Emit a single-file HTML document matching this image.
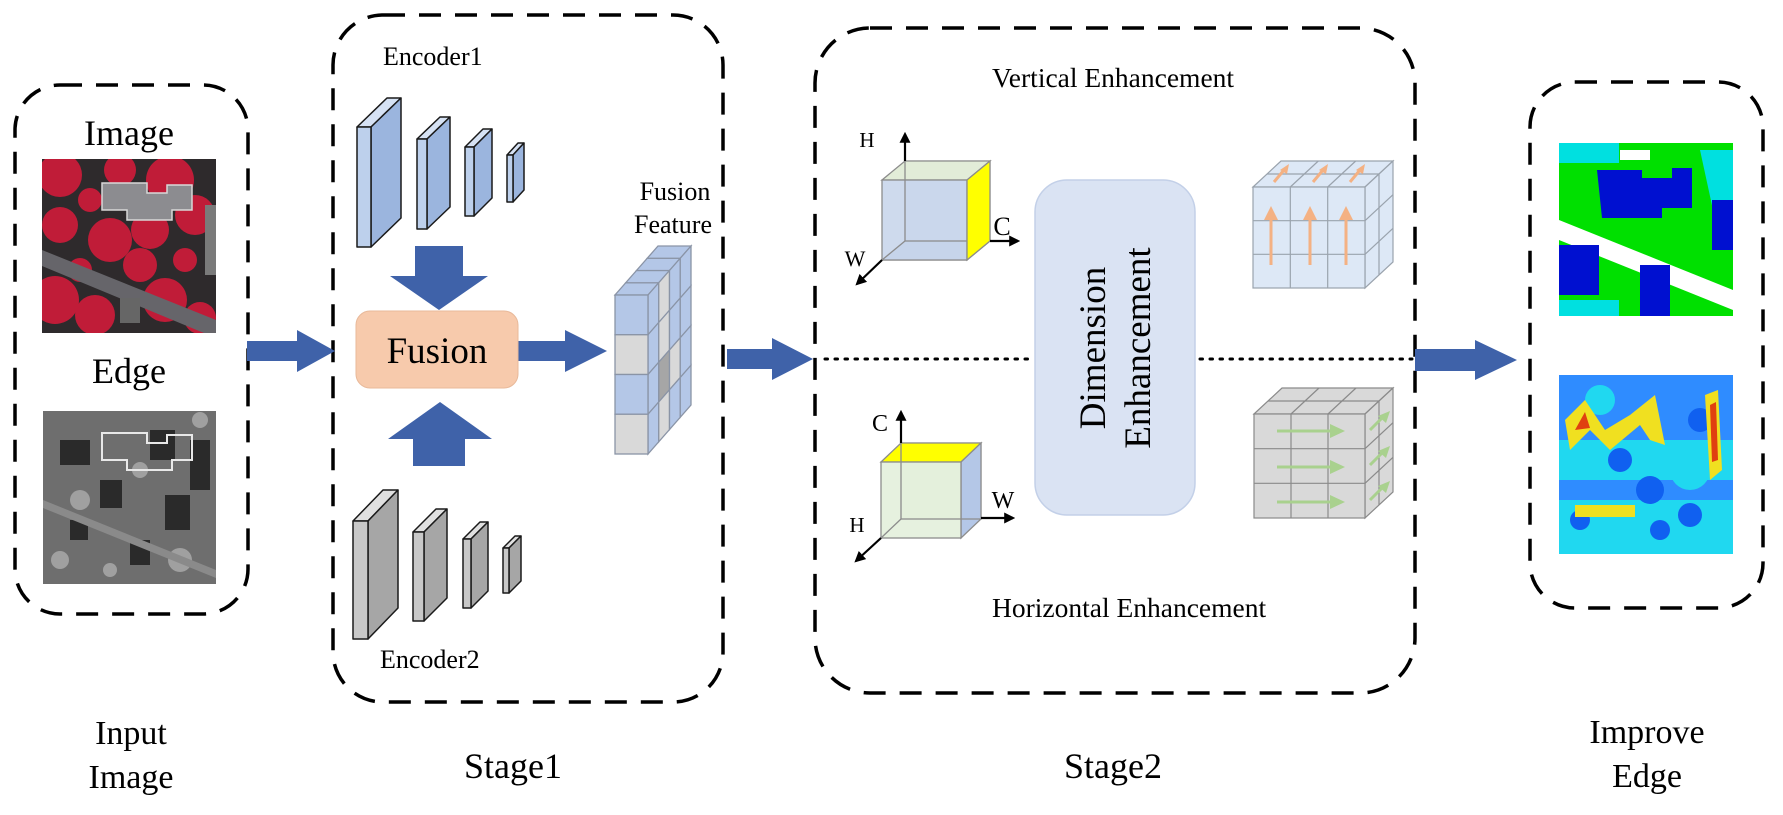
<!DOCTYPE html>
<html><head><meta charset="utf-8"><style>
html,body{margin:0;padding:0;background:#fff;}
svg{display:block;}
text{font-family:"Liberation Serif",serif;fill:#000;}
</style></head><body>
<svg width="1783" height="815" viewBox="0 0 1783 815" xmlns="http://www.w3.org/2000/svg">
<defs>
<marker id="ah" viewBox="0 0 10 10" refX="8" refY="5" markerWidth="5" markerHeight="5" orient="auto"><path d="M0,0 L10,5 L0,10 z" fill="#000"/></marker>
<clipPath id="c1"><rect x="42" y="159" width="174" height="174"/></clipPath>
<clipPath id="c2"><rect x="43" y="411" width="173" height="173"/></clipPath>
<clipPath id="c3"><rect x="1559" y="143" width="174" height="173"/></clipPath>
<clipPath id="c4"><rect x="1559" y="375" width="174" height="179"/></clipPath>
</defs>

<g fill="none" stroke="#000" stroke-width="3.5" stroke-dasharray="22 14">
<rect x="15" y="85" width="233" height="529" rx="45"/>
<rect x="333" y="15" width="390" height="687" rx="50"/>
<rect x="815" y="28" width="600" height="665" rx="55"/>
<rect x="1530" y="82" width="233" height="526" rx="45"/>
</g>

<text x="129" y="145" font-size="36" text-anchor="middle">Image</text>
<g clip-path="url(#c1)">
<rect x="42" y="159" width="174" height="174" fill="#2e2a2c"/>
<g fill="#c01c38">
<circle cx="60" cy="175" r="22"/><circle cx="120" cy="170" r="16"/><circle cx="170" cy="180" r="24"/>
<circle cx="195" cy="215" r="20"/><circle cx="60" cy="225" r="18"/><circle cx="110" cy="240" r="22"/>
<circle cx="150" cy="230" r="19"/><circle cx="140" cy="265" r="17"/><circle cx="55" cy="300" r="24"/>
<circle cx="95" cy="315" r="20"/><circle cx="165" cy="300" r="22"/><circle cx="200" cy="318" r="16"/>
<circle cx="185" cy="260" r="12"/><circle cx="80" cy="270" r="12"/><circle cx="90" cy="200" r="12"/>
</g>
<path d="M42,250 L216,320 L216,338 L42,266 z" fill="#66656a"/>
<path d="M102,183 h45 v10 h20 v-8 h25 v25 h-20 v10 h-45 v-10 h-25 z" fill="#8c8c90" stroke="#d8d8d8" stroke-width="1.5"/>
<rect x="205" y="205" width="11" height="70" fill="#7a7a7a"/>
<rect x="120" y="298" width="20" height="25" fill="#666"/>
</g>
<text x="129" y="383" font-size="36" text-anchor="middle">Edge</text>
<g clip-path="url(#c2)">
<rect x="43" y="411" width="173" height="173" fill="#6e6e6e"/>
<g fill="#2a2a2a">
<rect x="60" y="440" width="30" height="25"/><rect x="150" y="430" width="25" height="30"/>
<rect x="190" y="440" width="20" height="50"/><rect x="100" y="480" width="22" height="28"/>
<rect x="165" y="495" width="25" height="35"/><rect x="70" y="520" width="18" height="20"/>
<rect x="130" y="540" width="20" height="25"/>
</g>
<g fill="#a0a0a0">
<circle cx="80" cy="500" r="10"/><circle cx="140" cy="470" r="8"/><circle cx="180" cy="560" r="12"/>
<circle cx="60" cy="560" r="9"/><circle cx="110" cy="570" r="7"/><circle cx="200" cy="420" r="8"/>
</g>
<path d="M43,500 L216,570 L216,578 L43,508 z" fill="#8a8a8a"/>
<path d="M102,433 h45 v10 h20 v-8 h25 v25 h-20 v10 h-45 v-10 h-25 z" fill="none" stroke="#e8e8e8" stroke-width="2"/>
</g>
<text x="131" y="744" font-size="34" text-anchor="middle">Input</text>
<text x="131" y="788" font-size="34" text-anchor="middle">Image</text>

<g fill="#3f62a9">
<polygon points="247,341 297,341 297,330 335,351 297,372 297,361 247,361"/>
<polygon points="518,341 565,341 565,330 607,351 565,372 565,361 518,361"/>
<polygon points="727,349 772,349 772,338 813,359 772,380 772,369 727,369"/>
<polygon points="1415,349 1475,349 1475,340 1517,360 1475,380 1475,371 1415,371"/>
<polygon points="415,246 463,246 463,276 488,276 439,310 390,276 415,276"/>
<polygon points="440,402 492,439 465,439 465,466 413,466 413,439 388,439"/>
</g>

<g stroke="#1a1a1a" stroke-width="1.5" stroke-linejoin="round">
<g>
<polygon points="357,127 387,98 401,98 371,127" fill="#d6e2f4"/><polygon points="371,127 401,98 401,218 371,247" fill="#9bb5de"/><rect x="357" y="127" width="14" height="120" fill="#bdd0ec"/>
<polygon points="417,139 440,117 450,117 427,139" fill="#d6e2f4"/><polygon points="427,139 450,117 450,207 427,229" fill="#9bb5de"/><rect x="417" y="139" width="10" height="90" fill="#bdd0ec"/>
<polygon points="465,147 483,129 492,129 474,147" fill="#d6e2f4"/><polygon points="474,147 492,129 492,198 474,216" fill="#9bb5de"/><rect x="465" y="147" width="9" height="69" fill="#bdd0ec"/>
<polygon points="507,155 518,143 524,143 513,155" fill="#d6e2f4"/><polygon points="513,155 524,143 524,190 513,202" fill="#9bb5de"/><rect x="507" y="155" width="6" height="47" fill="#bdd0ec"/>
</g>
<g>
<polygon points="353,521 383,490 398,490 368,521" fill="#e0e0e0"/><polygon points="368,521 398,490 398,608 368,639" fill="#a6a6a6"/><rect x="353" y="521" width="15" height="118" fill="#c8c8c8"/>
<polygon points="413,532 436,509 447,509 424,532" fill="#e0e0e0"/><polygon points="424,532 447,509 447,598 424,621" fill="#a6a6a6"/><rect x="413" y="532" width="11" height="89" fill="#c8c8c8"/>
<polygon points="463,539 480,522 488,522 471,539" fill="#e0e0e0"/><polygon points="471,539 488,522 488,591 471,608" fill="#a6a6a6"/><rect x="463" y="539" width="8" height="69" fill="#c8c8c8"/>
<polygon points="503,548 515,536 521,536 509,548" fill="#e0e0e0"/><polygon points="509,548 521,536 521,581 509,593" fill="#a6a6a6"/><rect x="503" y="548" width="6" height="45" fill="#c8c8c8"/>
</g>
</g>
<text x="383" y="65" font-size="26">Encoder1</text>
<text x="380" y="668" font-size="26">Encoder2</text>

<rect x="356" y="311" width="162" height="77" rx="14" fill="#f7caac" stroke="#e8b99a" stroke-width="1"/>
<text x="437" y="363" font-size="37" text-anchor="middle">Fusion</text>

<text x="675" y="200" font-size="26" text-anchor="middle">Fusion</text>
<text x="673" y="233" font-size="26" text-anchor="middle">Feature</text>
<g stroke="#8a94a6" stroke-width="1.3">
<polygon points="615,295 648,295 658.75,282.75 625.75,282.75" fill="#b4c7e7"/>
<polygon points="625.75,282.75 658.75,282.75 669.5,270.5 636.5,270.5" fill="#b4c7e7"/>
<polygon points="636.5,270.5 669.5,270.5 680.25,258.25 647.25,258.25" fill="#b4c7e7"/>
<polygon points="647.25,258.25 680.25,258.25 691,246 658,246" fill="#b4c7e7"/>
<g>
<polygon points="648,295 658.75,282.75 658.75,322.5 648,334.75" fill="#b4c7e7"/>
<polygon points="658.75,282.75 669.5,270.5 669.5,310.25 658.75,322.5" fill="#d9d9d9"/>
<polygon points="669.5,270.5 680.25,258.25 680.25,298 669.5,310.25" fill="#b4c7e7"/>
<polygon points="680.25,258.25 691,246 691,285.75 680.25,298" fill="#b4c7e7"/>
<polygon points="648,334.75 658.75,322.5 658.75,362.25 648,374.5" fill="#b4c7e7"/>
<polygon points="658.75,322.5 669.5,310.25 669.5,350 658.75,362.25" fill="#d9d9d9"/>
<polygon points="669.5,310.25 680.25,298 680.25,337.75 669.5,350" fill="#b4c7e7"/>
<polygon points="680.25,298 691,285.75 691,325.5 680.25,337.75" fill="#b4c7e7"/>
<polygon points="648,374.5 658.75,362.25 658.75,402 648,414.25" fill="#b4c7e7"/>
<polygon points="658.75,362.25 669.5,350 669.5,389.75 658.75,402" fill="#a6a6a6"/>
<polygon points="669.5,350 680.25,337.75 680.25,377.5 669.5,389.75" fill="#d9d9d9"/>
<polygon points="680.25,337.75 691,325.5 691,365.25 680.25,377.5" fill="#b4c7e7"/>
<polygon points="648,414.25 658.75,402 658.75,441.75 648,454" fill="#b4c7e7"/>
<polygon points="658.75,402 669.5,389.75 669.5,429.5 658.75,441.75" fill="#d9d9d9"/>
<polygon points="669.5,389.75 680.25,377.5 680.25,417.25 669.5,429.5" fill="#b4c7e7"/>
<polygon points="680.25,377.5 691,365.25 691,405 680.25,417.25" fill="#b4c7e7"/>
</g>
<rect x="615" y="295" width="33" height="39.75" fill="#b4c7e7"/>
<rect x="615" y="334.75" width="33" height="39.75" fill="#d9d9d9"/>
<rect x="615" y="374.5" width="33" height="39.75" fill="#b4c7e7"/>
<rect x="615" y="414.25" width="33" height="39.75" fill="#d9d9d9"/>
</g>

<text x="513" y="778" font-size="36" text-anchor="middle">Stage1</text>
<text x="1113" y="778" font-size="36" text-anchor="middle">Stage2</text>

<g stroke="#000" stroke-width="3" stroke-dasharray="2.5 7.5" stroke-linecap="round">
<line x1="825" y1="359" x2="1032" y2="359"/>
<line x1="1200" y1="359" x2="1412" y2="359"/>
</g>

<text x="992" y="87" font-size="27.5">Vertical Enhancement</text>
<text x="992" y="617" font-size="27.5">Horizontal Enhancement</text>
<g stroke="#8c8c8c" stroke-width="1.3">
<rect x="905" y="161" width="85" height="80" fill="#c5d3ea" opacity="0.5"/>
<polygon points="882,180 905,161 990,161 967,180" fill="#e2ecd8"/>
<polygon points="882,260 905,241 990,241 967,260" fill="#c5d3ea"/>
<rect x="882" y="180" width="85" height="80" fill="#c5d3ea" fill-opacity="0.85"/>
<line x1="905" y1="161" x2="905" y2="241"/><line x1="905" y1="241" x2="990" y2="241"/><line x1="905" y1="241" x2="882" y2="260"/>
<polygon points="967,180 990,161 990,241 967,260" fill="#ffff00"/>
</g>
<g stroke="#000" stroke-width="2.2" marker-end="url(#ah)">
<line x1="905" y1="161" x2="905" y2="134"/>
<line x1="990" y1="241" x2="1018" y2="241"/>
<line x1="882" y1="260" x2="857" y2="284"/>
</g>
<text x="867" y="147" font-size="21" text-anchor="middle">H</text>
<text x="1002" y="235" font-size="26" text-anchor="middle">C</text>
<text x="855" y="266" font-size="22" text-anchor="middle">W</text>

<g stroke="#8c8c8c" stroke-width="1.3">
<rect x="901" y="443" width="80" height="76" fill="#e2efd9" opacity="0.6"/>
<polygon points="881,462 901,443 981,443 961,462" fill="#ffff00"/>
<polygon points="961,462 981,443 981,519 961,538" fill="#b4c7e7"/>
<rect x="881" y="462" width="80" height="76" fill="#e2efd9" fill-opacity="0.85"/>
<line x1="901" y1="443" x2="901" y2="519"/><line x1="901" y1="519" x2="981" y2="519"/><line x1="901" y1="519" x2="881" y2="538"/>
</g>
<g stroke="#000" stroke-width="2.2" marker-end="url(#ah)">
<line x1="901" y1="443" x2="901" y2="412"/>
<line x1="981" y1="518" x2="1013" y2="518"/>
<line x1="881" y1="538" x2="856" y2="561"/>
</g>
<text x="880" y="431" font-size="24" text-anchor="middle">C</text>
<text x="1003" y="508" font-size="24" text-anchor="middle">W</text>
<text x="857" y="532" font-size="21" text-anchor="middle">H</text>

<rect x="1035" y="180" width="160" height="335" rx="32" fill="#dae3f3" stroke="#c3d0e8" stroke-width="1.5"/>
<text transform="translate(1115,348) rotate(-90)" font-size="37" text-anchor="middle"><tspan x="0" y="-10">Dimension</tspan><tspan x="0" y="35">Enhancement</tspan></text>

<g stroke="#9aa3ad" stroke-width="1.2" fill="#dde8f6">
<polygon points="1253,187 1281,161 1393,161 1365,187"/>
<polygon points="1365,187 1393,161 1393,262 1365,288"/>
<rect x="1253" y="187" width="112" height="101"/>
<line x1="1290.3" y1="187" x2="1318.3" y2="161"/><line x1="1327.7" y1="187" x2="1355.7" y2="161"/>
<line x1="1267" y1="174" x2="1379" y2="174"/>
<line x1="1379" y1="174" x2="1379" y2="275"/>
<line x1="1365" y1="220.7" x2="1393" y2="194.7"/><line x1="1365" y1="254.3" x2="1393" y2="228.3"/>
<line x1="1290.3" y1="187" x2="1290.3" y2="288"/><line x1="1327.7" y1="187" x2="1327.7" y2="288"/>
<line x1="1253" y1="220.7" x2="1365" y2="220.7"/><line x1="1253" y1="254.3" x2="1365" y2="254.3"/>
</g>
<g stroke="#f4b183" stroke-width="3" fill="#f4b183">
<line x1="1271" y1="265" x2="1271" y2="218"/><polygon points="1264,220 1271,206 1278,220" stroke="none"/>
<line x1="1310" y1="265" x2="1310" y2="218"/><polygon points="1303,220 1310,206 1317,220" stroke="none"/>
<line x1="1346" y1="265" x2="1346" y2="218"/><polygon points="1339,220 1346,206 1353,220" stroke="none"/>
<line x1="1274" y1="182" x2="1284" y2="170"/><polygon points="1280,170 1289,164 1287,174" stroke="none"/>
<line x1="1313" y1="182" x2="1323" y2="170"/><polygon points="1319,170 1328,164 1326,174" stroke="none"/>
<line x1="1350" y1="182" x2="1360" y2="170"/><polygon points="1356,170 1365,164 1363,174" stroke="none"/>
</g>

<g stroke="#8a8a8a" stroke-width="1.2" fill="#d9d9d9">
<polygon points="1254,414 1282,388 1393,388 1365,414"/>
<polygon points="1365,414 1393,388 1393,492 1365,518"/>
<rect x="1254" y="414" width="111" height="104"/>
<line x1="1291" y1="414" x2="1319" y2="388"/><line x1="1328" y1="414" x2="1356" y2="388"/>
<line x1="1268" y1="401" x2="1379" y2="401"/>
<line x1="1379" y1="401" x2="1379" y2="505"/>
<line x1="1365" y1="448.7" x2="1393" y2="422.7"/><line x1="1365" y1="483.3" x2="1393" y2="457.3"/>
<line x1="1291" y1="414" x2="1291" y2="518"/><line x1="1328" y1="414" x2="1328" y2="518"/>
<line x1="1254" y1="448.7" x2="1365" y2="448.7"/><line x1="1254" y1="483.3" x2="1365" y2="483.3"/>
</g>
<g stroke="#a9d18e" stroke-width="3" fill="#a9d18e">
<line x1="1277" y1="431" x2="1332" y2="431"/><polygon points="1330,424 1345,431 1330,438" stroke="none"/>
<line x1="1277" y1="467" x2="1332" y2="467"/><polygon points="1330,460 1345,467 1330,474" stroke="none"/>
<line x1="1277" y1="502" x2="1332" y2="502"/><polygon points="1330,495 1345,502 1330,509" stroke="none"/>
<line x1="1370" y1="430" x2="1382" y2="418"/><polygon points="1378,416 1390,411 1386,423" stroke="none"/>
<line x1="1370" y1="465" x2="1382" y2="453"/><polygon points="1378,451 1390,446 1386,458" stroke="none"/>
<line x1="1370" y1="500" x2="1382" y2="488"/><polygon points="1378,486 1390,481 1386,493" stroke="none"/>
</g>

<g clip-path="url(#c3)">
<rect x="1559" y="143" width="174" height="173" fill="#00e000"/>
<path d="M1559,143 h60 v20 h-60 z" fill="#00e0e0"/>
<path d="M1700,150 h33 v60 h-20 z" fill="#00e0e0"/>
<path d="M1597,170 h45 v8 h30 v-10 h20 v40 h-30 v10 h-60 z" fill="#0010d0"/>
<path d="M1559,220 L1733,290 L1733,310 L1559,240 z" fill="#ffffff"/>
<path d="M1559,245 h40 v50 h-40 z" fill="#0010d0"/>
<path d="M1640,265 h30 v51 h-30 z" fill="#0010d0"/>
<path d="M1712,200 h21 v50 h-21 z" fill="#0010d0"/>
<path d="M1559,300 h60 v16 h-60 z" fill="#00e0e0"/>
<path d="M1620,150 h30 v10 h-30 z" fill="#fff"/>
</g>
<g clip-path="url(#c4)">
<rect x="1559" y="375" width="174" height="179" fill="#2f8cff"/>
<g fill="#20d8f0">
<rect x="1559" y="440" width="174" height="40"/><rect x="1559" y="500" width="174" height="54"/>
<circle cx="1600" cy="400" r="15"/><circle cx="1690" cy="470" r="20"/>
</g>
<g fill="#1060f0">
<circle cx="1620" cy="460" r="12"/><circle cx="1650" cy="490" r="14"/><circle cx="1700" cy="420" r="12"/>
<circle cx="1580" cy="520" r="10"/><circle cx="1660" cy="530" r="10"/><circle cx="1690" cy="515" r="12"/>
</g>
<g fill="#f0e020">
<path d="M1565,420 L1585,400 L1605,430 L1630,415 L1655,395 L1665,445 L1650,440 L1640,425 L1610,450 L1590,430 L1570,450 z"/>
<path d="M1705,395 L1718,390 L1722,470 L1710,480 z"/>
<rect x="1575" y="505" width="60" height="12"/>
</g>
<g fill="#e04010">
<path d="M1710,405 L1716,402 L1718,460 L1712,462 z"/>
<path d="M1575,430 L1585,412 L1590,428 z"/>
</g>
</g>
<text x="1647" y="743" font-size="34" text-anchor="middle">Improve</text>
<text x="1647" y="787" font-size="34" text-anchor="middle">Edge</text>
</svg>
</body></html>
